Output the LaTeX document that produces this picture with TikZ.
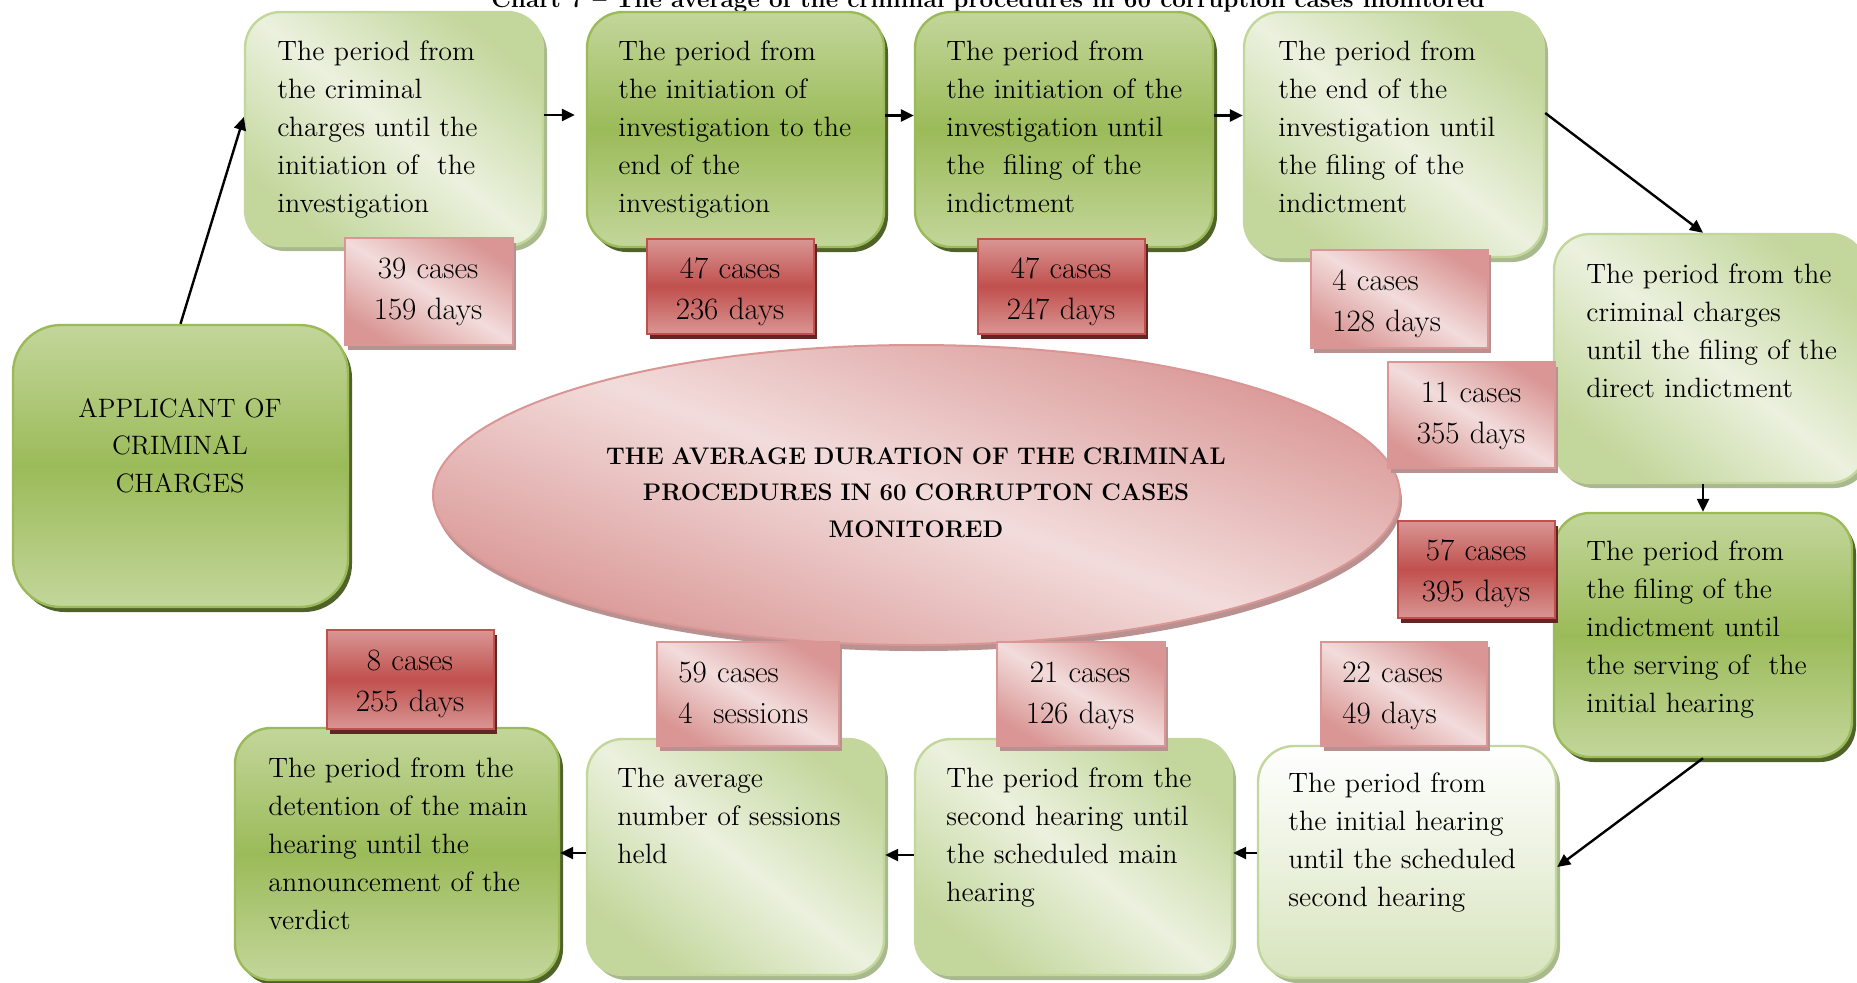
\documentclass[tikz,border=0pt]{standalone}
\usepackage{fontspec}
\usetikzlibrary{shadows,arrows.meta,calc,shapes.geometric}
\definecolor{gA}{HTML}{9BBB59}
\definecolor{gB}{HTML}{C3D69B}
\definecolor{gC}{HTML}{EBF1DE}
\definecolor{gD}{HTML}{D7E4BD}
\definecolor{gS}{HTML}{4F6228}
\definecolor{gL}{HTML}{A9B98E}
\definecolor{rA}{HTML}{C0504D}
\definecolor{rB}{HTML}{D99694}
\definecolor{rC}{HTML}{F2DCDB}
\definecolor{rS}{HTML}{632523}
\definecolor{rL}{HTML}{B99190}
\tikzset{
  box/.style={rectangle, rounded corners=18pt, inner sep=0pt, line width=1.2pt},
  darkgreen/.style={box, draw=gA, top color=gB, bottom color=gB, middle color=gA,
    drop shadow={shadow xshift=2pt, shadow yshift=-2.5pt, fill=gS, opacity=1}},
  lightgreen/.style={box, draw=gB, top color=gB, bottom color=gB, middle color=gC, shading angle=-39,
    drop shadow={shadow xshift=2pt, shadow yshift=-2.5pt, fill=gL, opacity=1}},
  whitegreen/.style={box, draw=gB, top color=white, bottom color=gD,
    drop shadow={shadow xshift=2pt, shadow yshift=-2.5pt, fill=gL, opacity=1}},
  redbox/.style={rectangle, inner sep=0pt, line width=1pt},
  darkred/.style={redbox, draw=rA, top color=rB, bottom color=rB, middle color=rA,
    drop shadow={shadow xshift=1.5pt, shadow yshift=-2.5pt, fill=rS, opacity=1}},
  lightred/.style={redbox, draw=rB, top color=rB, bottom color=rB, middle color=rC, shading angle=-31,
    drop shadow={shadow xshift=1.5pt, shadow yshift=-2.5pt, fill=rL, opacity=1}},
  txt/.style={anchor=base west, text width=200pt, align=left, inner sep=0pt, font=\fontsize{14}{19}\selectfont},
  ctxt/.style={anchor=base, text width=120pt, align=center, inner sep=0pt, font=\fontsize{15.5}{20.5}\selectfont},
  ltxt/.style={anchor=base west, text width=120pt, align=left, inner sep=0pt, font=\fontsize{15.5}{20.5}\selectfont},
  arr/.style={line width=1.2pt, -{Triangle[length=6.5pt,width=6pt]}}
}
\begin{document}
\begin{tikzpicture}[x=0.5pt,y=-0.5pt]
\useasboundingbox (0,0) rectangle (1857,982);
% title (partly cut at top, as in the reference)
\node[anchor=base, inner sep=0pt, font=\bfseries\fontsize{12.1}{15}\selectfont] (title) at (988,7)
  {Chart 7 – The average of the criminal procedures in 60 corruption cases monitored};
% green boxes
\node[darkgreen, rounded corners=24pt, minimum width=167.5pt, minimum height=141pt] (A0) at (180.5,466) {};
\node[lightgreen, minimum width=149pt, minimum height=117pt] (A1) at (394,129) {};
\node[darkgreen, minimum width=148.5pt, minimum height=117.5pt] (A2) at (735.5,129.5) {};
\node[darkgreen, minimum width=149pt, minimum height=117.5pt] (A3) at (1064,129.5) {};
\node[lightgreen, minimum width=150pt, minimum height=122.5pt] (A4) at (1394,134.5) {};
\node[lightgreen, minimum width=156pt, minimum height=124.5pt] (B1) at (1710,358.5) {};
\node[darkgreen, minimum width=149pt, minimum height=122pt] (B2) at (1703,635) {};
\node[whitegreen, minimum width=149pt, minimum height=116pt] (C1) at (1407,862) {};
\node[lightgreen, minimum width=158.5pt, minimum height=118pt] (C2) at (1073.5,857) {};
\node[lightgreen, minimum width=148.5pt, minimum height=118pt] (C3) at (735.5,857) {};
\node[darkgreen, minimum width=162pt, minimum height=126pt] (C4) at (397,854) {};
% central ellipse
\node[ellipse, draw=rB, line width=1pt, top color=rB, bottom color=rB, middle color=rC, shading angle=-20,
  drop shadow={shadow xshift=1pt, shadow yshift=-3pt, fill=rL, opacity=1},
  minimum width=483.5pt, minimum height=150pt, inner sep=0pt] (E) at (916.5,495) {};
% red boxes
\node[lightred, minimum width=84pt, minimum height=53.5pt] (R1) at (429,291.5) {};
\node[darkred, minimum width=83.5pt, minimum height=47.5pt] (R2) at (730.5,286.5) {};
\node[darkred, minimum width=83.5pt, minimum height=47.5pt] (R3) at (1061.5,286.5) {};
\node[lightred, minimum width=88.5pt, minimum height=49pt] (R4) at (1399.5,299) {};
\node[lightred, minimum width=83.5pt, minimum height=53pt] (R5) at (1471.5,415) {};
\node[darkred, minimum width=78.5pt, minimum height=48.5pt] (R6) at (1476.5,569.5) {};
\node[lightred, minimum width=83pt, minimum height=52pt] (R7) at (1404,694) {};
\node[lightred, minimum width=91pt, minimum height=52pt] (R8) at (748,694) {};
\node[lightred, minimum width=84pt, minimum height=52pt] (R9) at (1081,694) {};
\node[darkred, minimum width=83.5pt, minimum height=49.5pt] (R10) at (410.5,679.5) {};
% texts in green boxes
\node[anchor=base, text width=160pt, align=center, inner sep=0pt, font=\fontsize{13.3}{18.75}\selectfont] (tA0) at (180,417)
  {APPLICANT OF\\CRIMINAL\\CHARGES};
\node[txt] (tA1) at (277,60) {The period from\\the criminal\\charges until the\\initiation of~ the\\investigation};
\node[txt] (tA2) at (618,60) {The period from\\the initiation of\\investigation to the\\end of the\\investigation};
\node[txt] (tA3) at (946,60) {The period from\\the initiation of the\\investigation until\\the~ filing of the\\indictment};
\node[txt] (tA4) at (1278,60) {The period from\\the end of the\\investigation until\\the filing of the\\indictment};
\node[txt] (tB1) at (1586,283) {The period from the\\criminal charges\\until the filing of the\\direct indictment};
\node[txt] (tB2) at (1586,560) {The period from\\the filing of the\\indictment until\\the serving of~ the\\initial hearing};
\node[txt] (tC1) at (1288,792) {The period from\\the initial hearing\\until the scheduled\\second hearing};
\node[txt] (tC2) at (946,787) {The period from the\\second hearing until\\the scheduled main\\hearing};
\node[txt] (tC3) at (617,787) {The average\\number of sessions\\held};
\node[txt] (tC4) at (268,777) {The period from the\\detention of the main\\hearing until the\\announcement of the\\verdict};
% texts in red boxes
\node[ctxt] (tR1) at (428,278) {39 cases\\159 days};
\node[ctxt] (tR2) at (730,278) {47 cases\\236 days};
\node[ctxt] (tR3) at (1061,278) {47 cases\\247 days};
\node[ltxt] (tR4) at (1332,290) {4 cases\\128 days};
\node[ctxt] (tR5) at (1471,402) {11 cases\\355 days};
\node[ctxt] (tR6) at (1476,560) {57 cases\\395 days};
\node[ltxt] (tR7) at (1342,682) {22 cases\\49 days};
\node[ltxt] (tR8) at (678,682) {59 cases\\4~ sessions};
\node[ctxt] (tR9) at (1080,682) {21 cases\\126 days};
\node[ctxt] (tR10) at (410,670) {8 cases\\255 days};
% ellipse text
\node[anchor=base, text width=400pt, align=center, inner sep=0pt, font=\bfseries\fontsize{12}{18.25}\selectfont] (tE) at (916,464)
  {THE AVERAGE DURATION OF THE CRIMINAL\\PROCEDURES IN 60 CORRUPTON CASES\\MONITORED};
% connectors
\draw[arr] (A0.north) -- ([yshift=6pt]A1.west);
\draw[arr, shorten >=5.5pt] ([yshift=7pt]A1.east) -- ([yshift=7pt]A1.east -| A2.west);
\draw[arr] ([yshift=7pt]A2.east) -- ([yshift=7pt]A2.east -| A3.west);
\draw[arr] ([yshift=7pt]A3.east) -- ([yshift=7pt]A3.east -| A4.west);
\draw[arr] ([yshift=10.75pt]A4.east) -- ([xshift=-3.5pt]B1.north);
\draw[arr] (B2.north |- B1.south) -- (B2.north);
\draw[arr] (B2.south) -- ([yshift=-2.5pt]C1.east);
\draw[arr] ([yshift=4.5pt]C1.west) -- ([yshift=4.5pt]C1.west -| C2.east);
\draw[arr] ([yshift=1pt]C2.west) -- ([yshift=1pt]C2.west -| C3.east);
\draw[arr] ([yshift=2pt]C3.west) -- ([yshift=2pt]C3.west -| C4.east);
\end{tikzpicture}
\end{document}
